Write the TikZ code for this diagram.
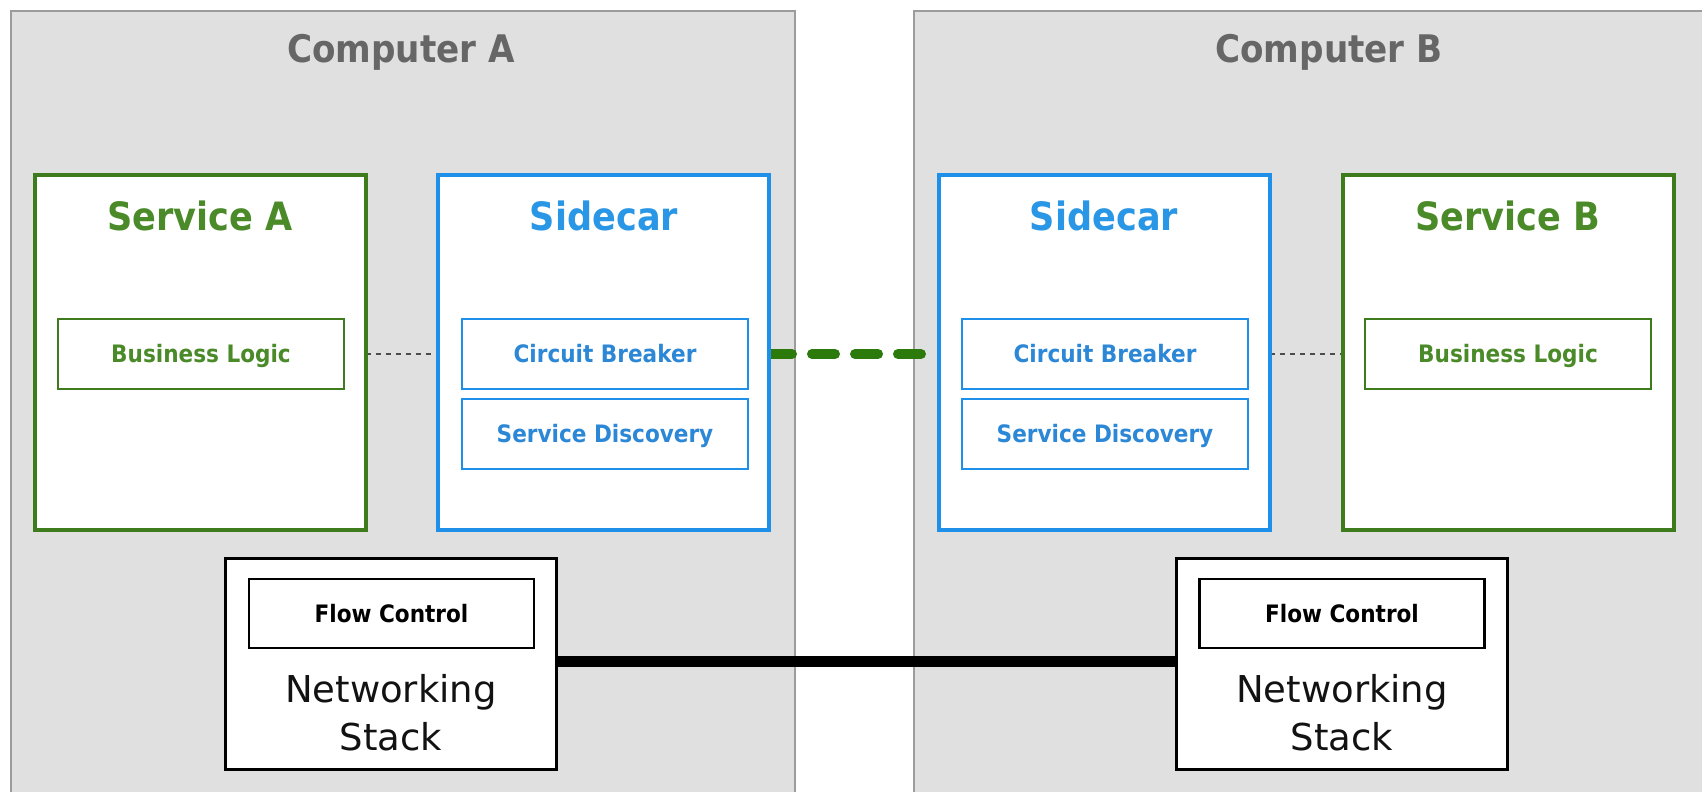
\documentclass[tikz,border=0pt]{standalone}
\usepackage{fontspec}
\setmainfont{DejaVu Sans}
\newfontfamily\labelfont{DejaVu Sans}[FakeStretch=0.9]
\usetikzlibrary{positioning}

\definecolor{hostfill}{HTML}{E0E0E0}
\definecolor{hostline}{HTML}{9C9C9C}
\definecolor{hosttext}{HTML}{666666}
\definecolor{svcgreen}{HTML}{3D7B1D}
\definecolor{svctext}{HTML}{4A8A28}
\definecolor{linkgreen}{HTML}{2C7A0C}
\definecolor{carblue}{HTML}{1F90EA}
\definecolor{cartext}{HTML}{2A96E6}
\definecolor{cartextsmall}{HTML}{2C88D6}

\pgfdeclarelayer{hosts}
\pgfdeclarelayer{links}
\pgfsetlayers{hosts,links,main}

\tikzset{
  box/.style={rectangle, anchor=north west, inner sep=0pt, outer sep=0pt},
  host/.style={box, fill=hostfill, draw=hostline, line width=2pt},
  service/.style={box, fill=white, draw=svcgreen, line width=4pt,
    minimum width=331pt, minimum height=355pt},
  sidecar/.style={box, fill=white, draw=carblue, line width=4pt,
    minimum width=331pt, minimum height=355pt},
  greenpart/.style={box, fill=white, draw=svcgreen, line width=2pt,
    minimum width=286pt, minimum height=70pt},
  bluepart/.style={box, fill=white, draw=carblue, line width=2pt,
    minimum width=286pt, minimum height=70pt},
  netstack/.style={box, fill=white, draw=black, line width=3pt,
    minimum width=331pt, minimum height=211pt},
  netpart/.style={box, fill=white, draw=black, line width=2.5pt,
    minimum width=285pt, minimum height=69pt},
  txt/.style={anchor=base, inner sep=0pt},
  hosttitle/.style={txt, text=hosttext, font=\labelfont\bfseries\fontsize{38}{46}\selectfont},
  boxtitle/.style={txt, font=\labelfont\bfseries\fontsize{39}{47}\selectfont},
  small/.style={txt, font=\labelfont\bfseries\fontsize{24}{29}\selectfont},
  stacktext/.style={txt, align=center, text=black!93,
    font=\fontsize{37}{48}\selectfont},
  local/.style={draw=black!70, line width=1.5pt, dash pattern=on 5pt off 5pt},
  remote/.style={draw=linkgreen, line width=10pt, line cap=round,
    dash pattern=on 23pt off 20pt},
  wire/.style={draw=black, line width=11pt}
}

\begin{document}
\begin{tikzpicture}[x=1pt, y=-1pt]
\useasboundingbox (0,0) rectangle (1702,792);
\clip (0,0) rectangle (1702,792);

% the two machines
\begin{pgfonlayer}{hosts}
  \fill[white] (0,0) rectangle (1702,792);
  \node[host, minimum width=784pt, minimum height=820pt] (hostA) at (11,11) {};
  \node[host, minimum width=800pt, minimum height=820pt] (hostB) at (914,11) {};
\end{pgfonlayer}
\node[hosttitle] (hostAtitle) at (401,63) {Computer A};
\node[hosttitle] (hostBtitle) at (1329,63) {Computer B};

% Computer A: service and its sidecar
\node[service] (svcA) at (34.5,175) {};
\node[boxtitle, text=svctext] (svcAtitle) at (200,230) {Service A};
\node[greenpart] (bizA) at (58,319) {};
\node[small, text=svctext] (bizAtext) at (201,362) {Business Logic};

\node[sidecar] (carA) at (438,175) {};
\node[boxtitle, text=cartext] (carAtitle) at (604,230) {Sidecar};
\node[bluepart] (cbA) at (462,319) {};
\node[small, text=cartextsmall] (cbAtext) at (605,362) {Circuit Breaker};
\node[bluepart] (sdA) at (462,399) {};
\node[small, text=cartextsmall] (sdAtext) at (605,442) {Service Discovery};

% Computer B: sidecar and its service
\node[sidecar] (carB) at (939,175) {};
\node[boxtitle, text=cartext] (carBtitle) at (1104,230) {Sidecar};
\node[bluepart] (cbB) at (962,319) {};
\node[small, text=cartextsmall] (cbBtext) at (1105,362) {Circuit Breaker};
\node[bluepart] (sdB) at (962,399) {};
\node[small, text=cartextsmall] (sdBtext) at (1105,442) {Service Discovery};

\node[service] (svcB) at (1343,175) {};
\node[boxtitle, text=svctext] (svcBtitle) at (1508,230) {Service B};
\node[greenpart] (bizB) at (1365,319) {};
\node[small, text=svctext] (bizBtext) at (1508,362) {Business Logic};

% networking stacks
\node[netstack] (netA) at (225.5,558.5) {};
\node[netpart] (flowA) at (249,579) {};
\node[small, text=black] (flowAtext) at (391.5,622) {Flow Control};
\node[stacktext] (netAtext) at (391,750) {Networking\\Stack};

\node[netstack] (netB) at (1176.5,558.5) {};
\node[netpart] (flowB) at (1199.5,579) {};
\node[small, text=black] (flowBtext) at (1342,622) {Flow Control};
\node[stacktext] (netBtext) at (1342,750) {Networking\\Stack};

% connections
\begin{pgfonlayer}{links}
  \draw[local] (bizA.east -| svcA.east) -- (bizA.east -| carA.west);
  \draw[local] (bizB.west -| carB.east) -- (bizB.west -| svcB.west);
  \draw[remote] (cbA.east -| carA.east) -- (cbA.east -| carB.west);
  \draw[wire] ([yshift=3pt]netA.east) -- ([yshift=3pt]netB.west);
\end{pgfonlayer}
\end{tikzpicture}
\end{document}
